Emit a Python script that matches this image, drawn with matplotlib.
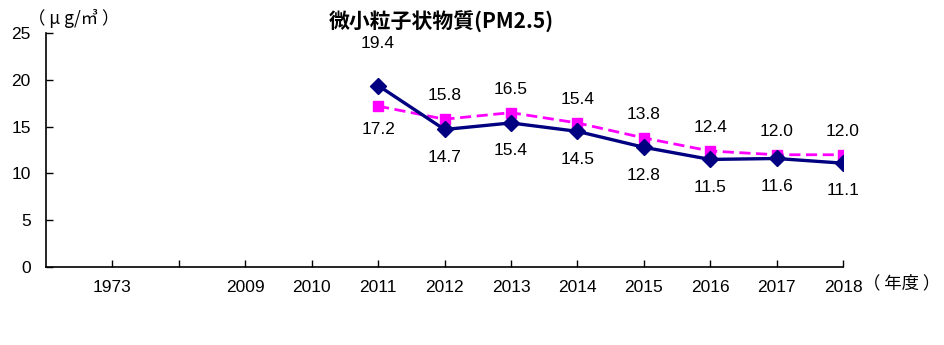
import matplotlib
matplotlib.use("Agg")
import matplotlib.pyplot as plt

plt.rcParams['font.family'] = ['Liberation Sans', 'Noto Sans CJK JP']
CJK = ['Noto Sans CJK JP', 'DejaVu Sans']

# categories on the x axis (second slot is an empty gap)
years = ["1973", "", "2009", "2010", "2011", "2012", "2013", "2014", "2015", "2016", "2017", "2018"]
# data only exists from 2011 to 2018
data_years = ["2011", "2012", "2013", "2014", "2015", "2016", "2017", "2018"]
navy_vals = [19.4, 14.7, 15.4, 14.5, 12.8, 11.5, 11.6, 11.1]
pink_vals = [17.2, 15.8, 16.5, 15.4, 13.8, 12.4, 12.0, 12.0]

NAVY = "#000080"
PINK = "#FF00FF"
FS = 12.5

fig = plt.figure(figsize=(9.45, 3.45), dpi=100)
ax = fig.add_axes([0.0487, 0.226, 0.8434, 0.678])

pos = {y: i + 1 for i, y in enumerate(years)}
xs = [pos[y] for y in data_years]

ax.plot(xs, pink_vals, color=PINK, lw=2.0, ls=(0, (4, 2)), marker="s",
        markersize=6.5, zorder=2)
ax.plot(xs, navy_vals, color=NAVY, lw=2.4, marker="D", markersize=8,
        zorder=3)

# value labels: navy below, pink above, except first point swapped
for i, (x, v) in enumerate(zip(xs, navy_vals)):
    dy = 30 if i == 0 else -20
    ax.annotate(f"{v:.1f}", (x, v), xytext=(0, dy), textcoords="offset points",
                ha="center", va="center", fontsize=FS)
for i, (x, v) in enumerate(zip(xs, pink_vals)):
    dy = -17 if i == 0 else 17
    ax.annotate(f"{v:.1f}", (x, v), xytext=(0, dy), textcoords="offset points",
                ha="center", va="center", fontsize=FS)

ax.set_xlim(0, len(years))
ax.set_ylim(0, 25)
ax.set_xticks(range(1, len(years) + 1))
ax.set_xticklabels(years, fontsize=FS)
ax.set_yticks(range(0, 26, 5))
ax.tick_params(axis="both", direction="in", length=5, width=1, labelsize=FS)
ax.tick_params(axis="x", pad=9)
ax.tick_params(axis="y", pad=11)
for s in ["top", "right"]:
    ax.spines[s].set_visible(False)
for s in ["left", "bottom"]:
    ax.spines[s].set_linewidth(1.2)

fig.text(0.467, 0.936, "微小粒子状物質(PM2.5)", ha="center", va="center",
         fontsize=15, fontweight="bold", family=CJK)
fig.text(0.03, 0.945, "（ μ g/㎥ ）", ha="left", va="center", fontsize=12.5,
         family=CJK)
fig.text(0.913, 0.178, "（ 年度 ）", ha="left", va="center", fontsize=12.5,
         family=CJK)

fig.savefig("out.png", dpi=100, facecolor="white")
